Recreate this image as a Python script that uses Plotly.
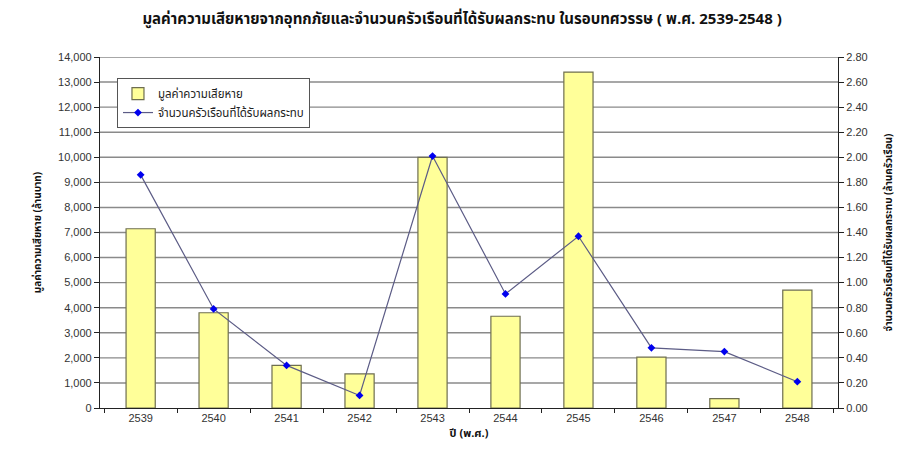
import plotly.graph_objects as go

# Flood damage and affected households by Buddhist-era year
years = ["2539", "2540", "2541", "2542", "2543", "2544", "2545", "2546", "2547", "2548"]
damage_mbaht = [7150, 3800, 1700, 1360, 10000, 3660, 13400, 2030, 370, 4700]
households_m = [1.86, 0.79, 0.34, 0.10, 2.01, 0.91, 1.37, 0.48, 0.45, 0.21]

left_ticks = list(range(0, 14001, 1000))
right_ticks = [round(i * 0.2, 2) for i in range(15)]

title_text = "มูลค่าความเสียหายจากอุทกภัยและจำนวนครัวเรือนที่ได้รับผลกระทบ ในรอบทศวรรษ ( พ.ศ. 2539-2548 )"
bar_name = "มูลค่าความเสียหาย"
line_name = "จำนวนครัวเรือนที่ได้รับผลกระทบ"
y1_title = "มูลค่าความเสียหาย (ล้านบาท)"
y2_title = "จำนวนครัวเรือนที่ได้รับผลกระทบ (ล้านครัวเรือน)"
x_title = "ปี (พ.ศ.)"

thai_font = "Noto Sans Thai, Tahoma, Noto Sans, DejaVu Sans, sans-serif"
tick_font = dict(family="Liberation Sans, Arial, sans-serif", size=11, color="#333333")
grid_col = "#8a8a8a"

fig = go.Figure()
fig.add_trace(go.Bar(
    x=years, y=damage_mbaht, name=bar_name,
    marker=dict(color="#ffff99", line=dict(color="#6e6e50", width=1.2)),
    width=0.4, yaxis="y",
))
fig.add_trace(go.Scatter(
    x=years, y=households_m, name=line_name, mode="lines+markers",
    line=dict(color="#5c5c86", width=1.2),
    marker=dict(symbol="diamond", size=6, color="#0000ee"),
    yaxis="y2",
))

# horizontal gridlines at each left-axis tick, behind the bars
for v in left_ticks[1:]:
    fig.add_shape(type="line", xref="paper", x0=0, x1=1, yref="y", y0=v, y1=v,
                  line=dict(color=grid_col, width=1.4), layer="below")

fig.update_layout(
    width=906, height=451,
    margin=dict(l=100, r=68, t=57, b=43),
    paper_bgcolor="white", plot_bgcolor="white",
    showlegend=True,
    title=dict(text="<b>" + title_text + "</b>", x=0.51, xanchor="center", y=0.958, yanchor="middle",
               font=dict(family=thai_font, size=15, color="#111111")),
    legend=dict(x=0.023, y=0.94, xanchor="left", yanchor="top",
                bgcolor="white", bordercolor="#555555", borderwidth=1,
                font=dict(family=thai_font, size=11.5, color="#222222"),
                itemwidth=30, tracegroupgap=0),
    xaxis=dict(
        type="category", showline=True, linecolor="#222222", linewidth=1.2,
        ticks="outside", tickson="boundaries", ticklen=4, tickcolor="#222222",
        tickfont=tick_font, showgrid=False,
        title=dict(text="<b>" + x_title + "</b>", font=dict(family=thai_font, size=11, color="#111111"), standoff=6),
    ),
    yaxis=dict(
        range=[0, 14000], tickmode="array", tickvals=left_ticks, tickformat=",d",
        showline=True, linecolor="#222222", linewidth=1.2,
        ticks="outside", ticklen=5, tickcolor="#222222", tickfont=tick_font,
        showgrid=False, zeroline=False,
        title=dict(text="<b>" + y1_title + "</b>", font=dict(family=thai_font, size=10, color="#111111"), standoff=14),
    ),
    yaxis2=dict(
        range=[0, 2.8], tickmode="array", tickvals=right_ticks, tickformat=".2f",
        overlaying="y", side="right",
        showline=True, linecolor="#222222", linewidth=1.2,
        ticks="outside", ticklen=5, tickcolor="#222222", tickfont=tick_font,
        showgrid=False, zeroline=False,
        title=dict(text="<b>" + y2_title + "</b>", font=dict(family=thai_font, size=10, color="#111111"), standoff=18),
    ),
)

fig.write_html("out.html")
